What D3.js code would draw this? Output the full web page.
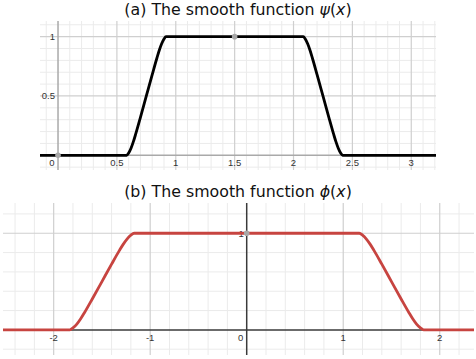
<!DOCTYPE html>
<html>
<head>
<meta charset="utf-8">
<script src="https://d3js.org/d3.v7.min.js"></script>
<style>
  body { margin: 0; background: #fff; }
  svg { display: block; }
</style>
</head>
<body>
<script>
  // psi(x)
  var psiX = [-0.2, 0.583, 0.60, 0.62, 0.64, 0.66, 0.70, 0.75, 0.80, 0.84, 0.86, 0.88, 0.90, 0.917,
              2.083, 2.10, 2.12, 2.14, 2.16, 2.20, 2.25, 2.30, 2.34, 2.36, 2.38, 2.40, 2.417, 3.3];
  var psiY = [0, 0, 0.02, 0.06, 0.115, 0.18, 0.32, 0.5, 0.68, 0.82, 0.885, 0.94, 0.98, 1,
              1, 0.98, 0.94, 0.885, 0.82, 0.68, 0.5, 0.32, 0.18, 0.115, 0.06, 0.02, 0, 0];

  // phi(x)
  var phiX = [-2.7, -1.833, -1.80, -1.76, -1.72, -1.68, -1.60, -1.50, -1.40, -1.32, -1.28, -1.24, -1.20, -1.167,
              1.167, 1.20, 1.24, 1.28, 1.32, 1.40, 1.50, 1.60, 1.68, 1.72, 1.76, 1.80, 1.833, 2.5];
  var phiY = [0, 0, 0.02, 0.06, 0.115, 0.18, 0.32, 0.5, 0.68, 0.82, 0.885, 0.94, 0.98, 1,
              1, 0.98, 0.94, 0.885, 0.82, 0.68, 0.5, 0.32, 0.18, 0.115, 0.06, 0.02, 0, 0];

  var psiXTicks = [0, 0.5, 1, 1.5, 2, 2.5, 3];
  var psiXTickLabels = ["0", "0.5", "1", "1.5", "2", "2.5", "3"];
  var psiYTicks = [0.5, 1];
  var psiYTickLabels = ["0.5", "1"];
  var psiDots = [[0, 0], [1.5, 1]];

  var phiXTicks = [-2, -1, 0, 1, 2];
  var phiXTickLabels = ["-2", "-1", "0", "1", "2"];
  var phiYTicks = [1];
  var phiYTickLabels = ["1"];
  var phiDots = [[0, 1]];

  var width = 476, height = 359;

  var svg = d3.select("body").append("svg")
      .attr("width", width)
      .attr("height", height);

  function panel(opt) {
    var x = d3.scaleLinear().domain(opt.xDomain).range(opt.xRange);
    var y = d3.scaleLinear().domain(opt.yDomain).range(opt.yRange);
    var g = svg.append("g");

    var clipId = "clip-" + opt.id;
    svg.append("clipPath").attr("id", clipId)
      .append("rect")
        .attr("x", opt.xRange[0]).attr("y", opt.yRange[1])
        .attr("width", opt.xRange[1] - opt.xRange[0])
        .attr("height", opt.yRange[0] - opt.yRange[1]);

    var eps = 1e-6;
    var minorX = d3.range(Math.ceil(opt.xDomain[0] / opt.minor) * opt.minor, opt.xDomain[1], opt.minor);
    var minorY = d3.range(Math.ceil(opt.yDomain[0] / opt.minor) * opt.minor, opt.yDomain[1], opt.minor);
    function isMajor(v) { var r = Math.abs(v / opt.major - Math.round(v / opt.major)); return r < eps * 100; }

    // minor grid
    g.selectAll(".gx").data(minorX.filter(function(v){ return !isMajor(v); })).enter()
      .append("line")
        .attr("x1", function(d){ return x(d); }).attr("x2", function(d){ return x(d); })
        .attr("y1", opt.yRange[0]).attr("y2", opt.yRange[1])
        .attr("stroke", "#ebebeb").attr("stroke-width", 1);
    g.selectAll(".gy").data(minorY.filter(function(v){ return !isMajor(v); })).enter()
      .append("line")
        .attr("y1", function(d){ return y(d); }).attr("y2", function(d){ return y(d); })
        .attr("x1", opt.xRange[0]).attr("x2", opt.xRange[1])
        .attr("stroke", "#ebebeb").attr("stroke-width", 1);

    // major grid
    g.selectAll(".mx").data(minorX.filter(function(v){ return isMajor(v) && Math.abs(v) > eps; })).enter()
      .append("line")
        .attr("x1", function(d){ return x(d); }).attr("x2", function(d){ return x(d); })
        .attr("y1", opt.yRange[0]).attr("y2", opt.yRange[1])
        .attr("stroke", "#cfcfcf").attr("stroke-width", 1.2);
    g.selectAll(".my").data(minorY.filter(function(v){ return isMajor(v) && Math.abs(v) > eps; })).enter()
      .append("line")
        .attr("y1", function(d){ return y(d); }).attr("y2", function(d){ return y(d); })
        .attr("x1", opt.xRange[0]).attr("x2", opt.xRange[1])
        .attr("stroke", "#cfcfcf").attr("stroke-width", 1.2);

    // axes
    g.append("line")
      .attr("x1", x(0)).attr("x2", x(0))
      .attr("y1", opt.yRange[0]).attr("y2", opt.yRange[1])
      .attr("stroke", opt.axisColor).attr("stroke-width", 1.5);
    g.append("line")
      .attr("y1", y(0)).attr("y2", y(0))
      .attr("x1", opt.xRange[0]).attr("x2", opt.xRange[1])
      .attr("stroke", opt.axisColor).attr("stroke-width", 1.5);

    // tick labels
    g.selectAll(".xl").data(opt.xTicks).enter()
      .append("text")
        .attr("x", function(d){ return d === 0 ? x(d) - 6 : x(d); })
        .attr("y", y(0) + 11)
        .attr("text-anchor", "middle")
        .attr("font-family", "Liberation Sans, Arial, sans-serif")
        .attr("font-size", 9.5)
        .attr("fill", "#333")
        .text(function(d, i){ return opt.xTickLabels[i]; });
    g.selectAll(".yl").data(opt.yTicks).enter()
      .append("text")
        .attr("x", x(0) - 3)
        .attr("y", function(d){ return y(d) + 3.5; })
        .attr("text-anchor", "end")
        .attr("font-family", "Liberation Sans, Arial, sans-serif")
        .attr("font-size", 9.5)
        .attr("fill", "#333")
        .text(function(d, i){ return opt.yTickLabels[i]; });

    // curve
    var line = d3.line()
      .x(function(d){ return x(d[0]); })
      .y(function(d){ return y(d[1]); })
      .curve(d3.curveMonotoneX);
    g.append("path")
      .datum(d3.zip(opt.xs, opt.ys))
      .attr("clip-path", "url(#" + clipId + ")")
      .attr("d", line)
      .attr("fill", "none")
      .attr("stroke", opt.color)
      .attr("stroke-width", 2.8)
      .attr("stroke-linejoin", "round");

    // points
    g.selectAll(".dot").data(opt.dots).enter()
      .append("circle")
        .attr("cx", function(d){ return x(d[0]); })
        .attr("cy", function(d){ return y(d[1]); })
        .attr("r", 2.8)
        .attr("fill", "#a8a8a8");

    // title
    var t = svg.append("text")
      .attr("x", width / 2)
      .attr("y", opt.titleY)
      .attr("text-anchor", "middle")
      .attr("font-family", "DejaVu Sans, sans-serif")
      .attr("font-size", 15.8)
      .attr("fill", "#111");
    t.append("tspan").text(opt.title);
    t.append("tspan").attr("font-style", "italic").text(opt.sym);
    t.append("tspan").text("(");
    t.append("tspan").attr("font-style", "italic").text("x");
    t.append("tspan").text(")");
  }

  panel({
    id: "a",
    xDomain: [-0.153, 3.21], xRange: [40, 436],
    yDomain: [-0.124, 1.132], yRange: [170, 21],
    minor: 0.1, major: 0.5,
    axisColor: "#a9a9a9",
    xTicks: psiXTicks, xTickLabels: psiXTickLabels,
    yTicks: psiYTicks, yTickLabels: psiYTickLabels,
    xs: psiX, ys: psiY, color: "#000", dots: psiDots,
    title: "(a) The smooth function ", sym: "\u03C8", titleY: 15
  });

  panel({
    id: "b",
    xDomain: [-2.525, 2.355], xRange: [3, 474],
    yDomain: [-0.26, 1.313], yRange: [355, 203],
    minor: 0.2, major: 1,
    axisColor: "#3a3a3a",
    xTicks: phiXTicks, xTickLabels: phiXTickLabels,
    yTicks: phiYTicks, yTickLabels: phiYTickLabels,
    xs: phiX, ys: phiY, color: "#c74440", dots: phiDots,
    title: "(b) The smooth function ", sym: "\u03D5", titleY: 197
  });
</script>
</body>
</html>
